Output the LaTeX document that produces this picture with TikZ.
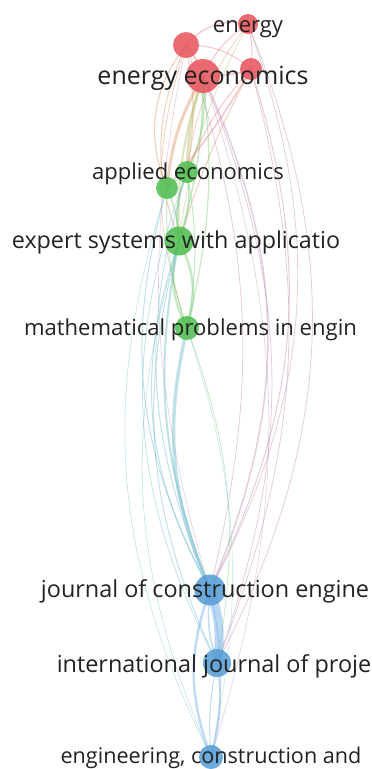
\documentclass[tikz,border=0pt]{standalone}
\usepackage{fontspec}
\setmainfont{Open Sans}
\usetikzlibrary{backgrounds}
\definecolor{cred}{RGB}{232,86,96}
\definecolor{cgreen}{RGB}{82,190,82}
\definecolor{cblue}{RGB}{88,158,214}
\definecolor{ered}{RGB}{236,110,115}
\definecolor{egreen}{RGB}{110,200,110}
\definecolor{eblue}{RGB}{100,165,228}
\definecolor{eorange}{RGB}{215,140,90}
\definecolor{eolive}{RGB}{175,185,100}
\definecolor{epurple}{RGB}{185,130,170}
\definecolor{eteal}{RGB}{100,180,200}
\definecolor{ctext}{RGB}{34,34,34}
\tikzset{
  vnode/.style={circle,inner sep=0pt,fill=#1,fill opacity=0.88,draw=none},
  vlabel/.style={anchor=base,inner sep=0pt,text=ctext},
  edge/.style={draw=#1,draw opacity=0.4,line cap=round},
}
\begin{document}
\begin{tikzpicture}[x=1pt,y=-1pt]
\useasboundingbox (0,0) rectangle (372,769);
% nodes
\node[vnode=cred,minimum size=20pt] (en) at (248,24) {};
\node[vnode=cred,minimum size=26pt] (r1) at (186,45) {};
\node[vnode=cred,minimum size=34pt] (ee) at (203,76) {};
\node[vnode=cred,minimum size=22pt] (r2) at (251,69) {};
\node[vnode=cgreen,minimum size=22pt] (ae) at (187,172) {};
\node[vnode=cgreen,minimum size=22pt] (g2) at (167,188) {};
\node[vnode=cgreen,minimum size=29pt] (es) at (179,241) {};
\node[vnode=cgreen,minimum size=24pt] (mp) at (187,328) {};
\node[vnode=cblue,minimum size=31pt] (jc) at (210,590) {};
\node[vnode=cblue,minimum size=28pt] (ij) at (217,663) {};
\node[vnode=cblue,minimum size=24pt] (ec) at (211,757) {};
% edges
\begin{scope}[on background layer]
% red internal
\draw[edge=ered,line width=1.2pt] (en.center) to[bend right=30] (r1.center);
\draw[edge=ered,line width=1pt] (en.center) to[bend right=15] (ee.center);
\draw[edge=ered,line width=1pt] (en.center) to[bend left=10] (r2.center);
\draw[edge=ered,line width=2pt] (r1.center) to[bend left=10] (ee.center);
\draw[edge=ered,line width=1pt] (r1.center) to[bend left=20] (r2.center);
\draw[edge=ered,line width=1.5pt] (ee.center) to[bend right=10] (r2.center);
% red-green
\draw[edge=eolive,line width=3pt] (ee.center) to[bend right=8] (ae.center);
\draw[edge=egreen,line width=1.5pt] (ee.center) to[bend left=15] (ae.center);
\draw[edge=eorange,line width=3pt] (ee.center) to[bend right=12] (g2.center);
\draw[edge=eorange,line width=1.2pt] (r1.center) to[bend right=30] (g2.center);
\draw[edge=eorange,line width=1pt] (r1.center) to[bend left=10] (ae.center);
\draw[edge=eolive,line width=2pt] (ee.center) to[bend right=10] (es.center);
\draw[edge=egreen,line width=1.5pt] (ee.center) to[bend left=8] (es.center);
\draw[edge=eorange,line width=1pt] (r1.center) to[bend right=22] (es.center);
\draw[edge=ered,line width=1.5pt] (r2.center) to[bend left=5] (g2.center);
\draw[edge=ered,line width=1pt] (r2.center) to[bend right=10] (ae.center);
\draw[edge=eorange,line width=1pt] (r2.center) to[bend right=5] (es.center);
\draw[edge=eorange,line width=0.8pt] (en.center) to[bend right=15] (ae.center);
\draw[edge=eolive,line width=0.8pt] (en.center) to[bend right=10] (es.center);
\draw[edge=egreen,line width=1.2pt] (ee.center) to[bend left=10] (mp.center);
\draw[edge=eorange,line width=0.8pt] (r1.center) to[bend right=18] (mp.center);
% red-blue
\draw[edge=epurple,line width=1.5pt] (ee.center) to[bend left=24] (jc.center);
\draw[edge=epurple,line width=1pt] (r2.center) to[bend left=22] (jc.center);
\draw[edge=epurple,line width=0.8pt] (en.center) to[bend left=24] (jc.center);
\draw[edge=epurple,line width=0.8pt] (en.center) to[bend left=25] (ij.center);
\draw[edge=epurple,line width=0.8pt] (ee.center) to[bend left=21] (ij.center);
\draw[edge=epurple,line width=0.8pt] (r2.center) to[bend left=18] (ij.center);
\draw[edge=epurple,line width=0.8pt] (r1.center) to[bend left=16] (jc.center);
\draw[edge=epurple,line width=0.6pt] (ee.center) to[bend left=18] (ec.center);
\draw[edge=epurple,line width=0.6pt] (r1.center) to[bend right=14] (jc.center);
% green internal
\draw[edge=egreen,line width=1pt] (ae.center) to (g2.center);
\draw[edge=egreen,line width=2pt] (ae.center) to[bend right=15] (es.center);
\draw[edge=egreen,line width=1.5pt] (ae.center) to[bend left=15] (es.center);
\draw[edge=egreen,line width=1.5pt] (g2.center) to[bend left=10] (es.center);
\draw[edge=egreen,line width=2.5pt] (es.center) to[bend right=22] (mp.center);
\draw[edge=egreen,line width=2.5pt] (es.center) to[bend left=22] (mp.center);
\draw[edge=egreen,line width=1pt] (ae.center) to[bend left=10] (mp.center);
\draw[edge=egreen,line width=1pt] (g2.center) to[bend right=10] (mp.center);
% green-blue
\draw[edge=eteal,line width=3.5pt] (mp.center) to[bend right=18] (jc.center);
\draw[edge=eteal,line width=2pt] (es.center) to[bend right=16] (jc.center);
\draw[edge=eteal,line width=1pt] (es.center) to[bend right=24] (jc.center);
\draw[edge=eteal,line width=1pt] (ae.center) to[bend right=20] (jc.center);
\draw[edge=eteal,line width=1pt] (g2.center) to[bend right=22] (jc.center);
\draw[edge=eteal,line width=1pt] (es.center) to[bend right=20] (ij.center);
\draw[edge=egreen,line width=0.8pt] (mp.center) to[bend left=15] (ij.center);
\draw[edge=eteal,line width=0.8pt] (ae.center) to[bend right=24] (ij.center);
\draw[edge=eteal,line width=0.6pt] (g2.center) to[bend right=22] (ec.center);
\draw[edge=eteal,line width=0.6pt] (es.center) to[bend right=20] (ec.center);
\draw[edge=eteal,line width=0.5pt] (mp.center) to[bend left=15] (ec.center);
% blue internal
\draw[edge=eblue,line width=9pt,draw opacity=0.45] (jc.center) to[bend left=14] (ij.center);
\draw[edge=eblue,line width=1.5pt] (jc.center) to[bend right=12] (ij.center);
\draw[edge=eblue,line width=2.5pt] (jc.center) to[bend right=20] (ec.center);
\draw[edge=eblue,line width=1pt] (jc.center) to[bend left=12] (ec.center);
\draw[edge=eblue,line width=1.5pt] (ij.center) to[bend left=12] (ec.center);
\draw[edge=eblue,line width=1pt] (ij.center) to[bend right=8] (ec.center);
\end{scope}
% labels
\node[vlabel,font=\fontsize{22}{22}\selectfont] (len) at (248,32) {energy};
\node[vlabel,font=\fontsize{25}{25}\selectfont] (lee) at (203,84) {energy economics};
\node[vlabel,font=\fontsize{22}{22}\selectfont] (lae) at (188,179) {applied economics};
\node[vlabel,font=\fontsize{23.3}{23.3}\selectfont] (les) at (176,248) {expert systems with applicatio};
\node[vlabel,font=\fontsize{22.1}{22.1}\selectfont] (lmp) at (190.5,335) {mathematical problems in engin};
\node[vlabel,font=\fontsize{23.4}{23.4}\selectfont] (ljc) at (205,597) {journal of construction engine};
\node[vlabel,font=\fontsize{23.4}{23.4}\selectfont] (lij) at (214,672) {international journal of proje};
\node[vlabel,font=\fontsize{21.6}{21.6}\selectfont] (lec) at (211,763) {engineering, construction and};
\end{tikzpicture}
\end{document}
